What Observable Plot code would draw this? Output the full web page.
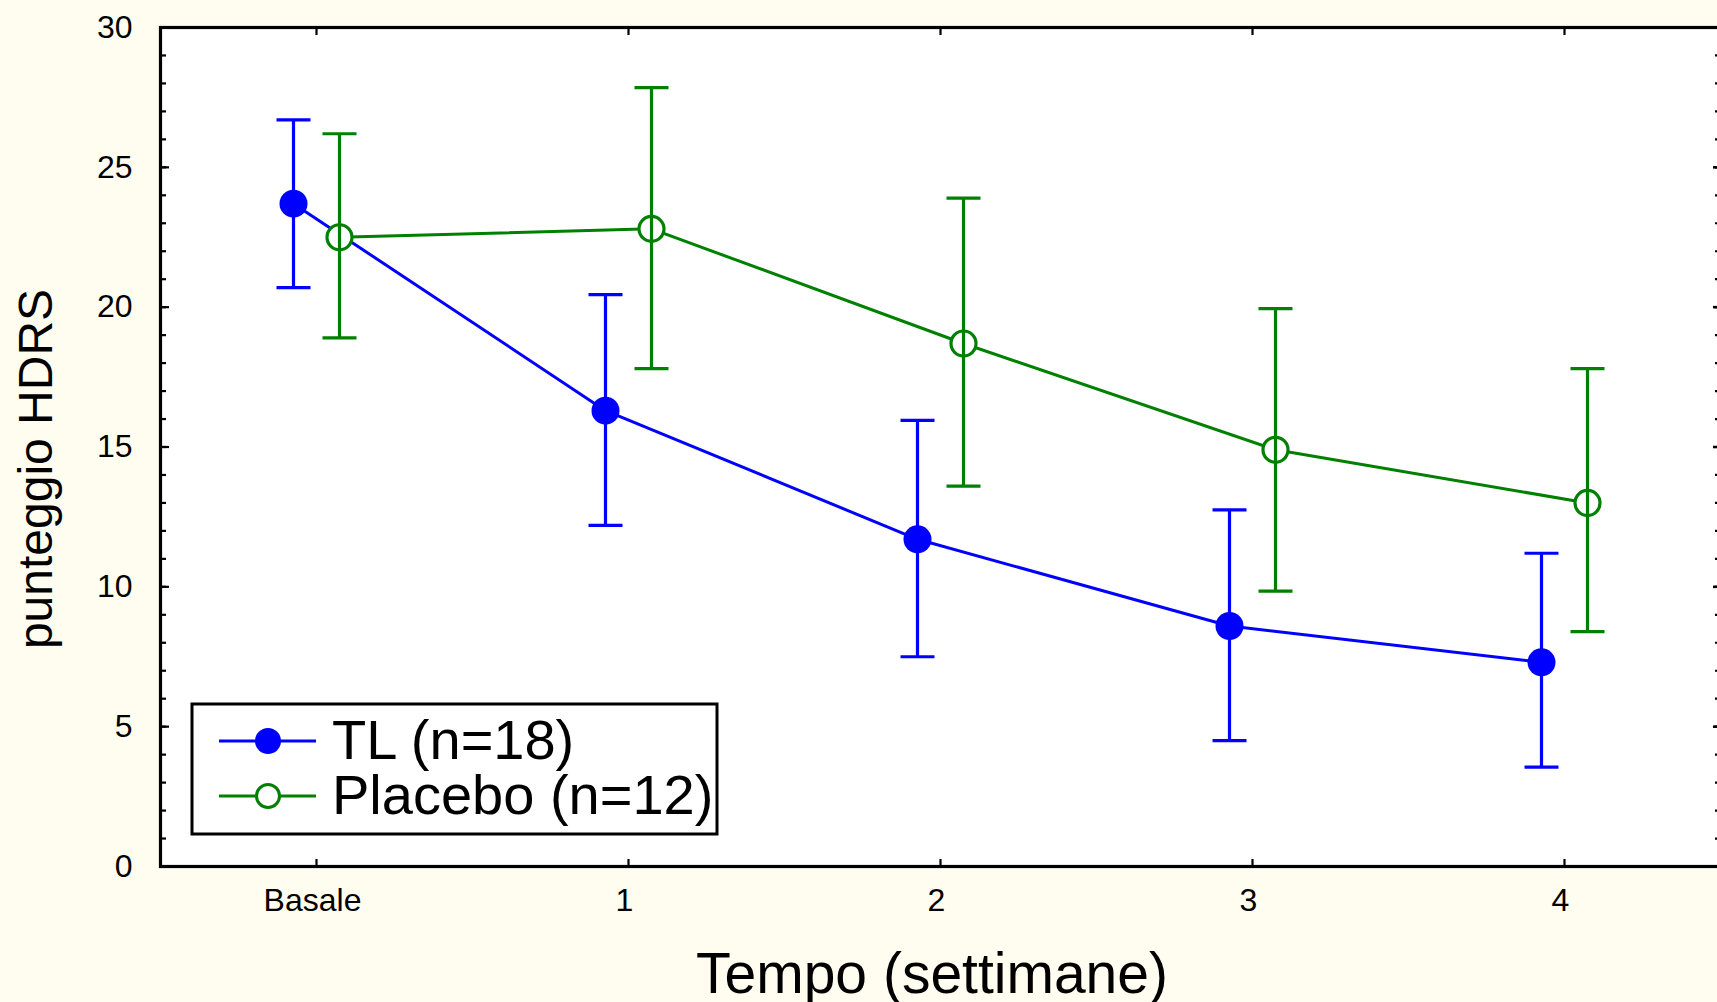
<!DOCTYPE html>
<html>
<head>
<meta charset="utf-8">
<script src="https://cdn.jsdelivr.net/npm/d3@7"></script>
<script src="https://cdn.jsdelivr.net/npm/@observablehq/plot@0.6"></script>
<style>
  html, body { margin: 0; padding: 0; background: #fffdf0; }
  #chart svg { display: block; }
</style>
</head>
<body>
<div id="chart"></div>
<script>
// ---- Data ----
const categories = ["Basale", "1", "2", "3", "4"];
const seriesNames = ["TL (n=18)", "Placebo (n=12)"];

const tlMean = [23.7, 16.3, 11.7, 8.6, 7.3];
const tlLow  = [20.7, 12.2, 7.5, 4.5, 3.55];
const tlHigh = [26.7, 20.45, 15.95, 12.75, 11.2];

const plMean = [22.5, 22.8, 18.7, 14.9, 13.0];
const plLow  = [18.9, 17.8, 13.6, 9.85, 8.4];
const plHigh = [26.2, 27.85, 23.9, 19.95, 17.8];

const yTicksMajor = [0, 5, 10, 15, 20, 25, 30];
const yTicksMinor = d3.range(0, 31, 1);

const xTitle = "Tempo (settimane)";
const yTitle = "punteggio HDRS";

// ---- Build tables ----
const tl = categories.map((c, i) => ({t: c, mean: tlMean[i], lo: tlLow[i], hi: tlHigh[i]}));
const pl = categories.map((c, i) => ({t: c, mean: plMean[i], lo: plLow[i], hi: plHigh[i]}));

const BLUE = "#0000ff";
const GREEN = "#008000";
const FONT = "'Liberation Sans', Arial, Helvetica, sans-serif";
const OFF = 23; // horizontal dodge of the two series (px)

const capSymbol = {
  draw(ctx) { ctx.moveTo(-17, 0); ctx.lineTo(17, 0); }
};

function errorBars(data, color, dx) {
  return [
    Plot.ruleX(data, {x: "t", y1: "lo", y2: "hi", stroke: color, strokeWidth: 3.2, dx}),
    Plot.dot(data, {x: "t", y: "lo", symbol: capSymbol, r: 5, fill: "none", stroke: color, strokeWidth: 3.2, dx}),
    Plot.dot(data, {x: "t", y: "hi", symbol: capSymbol, r: 5, fill: "none", stroke: color, strokeWidth: 3.2, dx})
  ];
}

const svg = Plot.plot({
  width: 1717,
  height: 1002,
  marginLeft: 160,
  marginRight: -3,
  marginTop: 27,
  marginBottom: 136,
  style: {background: "#fffdf0", fontFamily: FONT, color: "black", overflow: "visible"},
  x: {type: "point", domain: categories, padding: 0.5, label: null},
  y: {domain: [0, 30], label: null},
  marks: [
    Plot.frame({fill: "white", stroke: "none"}),
    // tick marks (inward)
    Plot.axisY({ticks: yTicksMinor, tickSize: -6, fill: "none", stroke: "black", strokeWidth: 2.2, label: null}),
    Plot.axisY({ticks: yTicksMajor, tickSize: -9, fill: "none", stroke: "black", strokeWidth: 2.2, label: null}),
    Plot.axisY({anchor: "right", ticks: yTicksMinor, tickSize: -6, fill: "none", stroke: "black", strokeWidth: 2.2, label: null}),
    Plot.axisY({anchor: "right", ticks: yTicksMajor, tickSize: -8, fill: "none", stroke: "black", strokeWidth: 2.6, label: null}),
    Plot.axisX({anchor: "bottom", tickSize: -7, fill: "none", stroke: "black", strokeWidth: 2.2, label: null}),
    Plot.axisX({anchor: "top", tickSize: -7, fill: "none", stroke: "black", strokeWidth: 2.2, label: null}),
    // tick labels
    Plot.axisY({ticks: yTicksMajor, tickSize: 0, tickPadding: 28, fontSize: 32, label: null}),
    Plot.axisX({anchor: "bottom", tickSize: 0, tickPadding: 22, fontSize: 32, dx: -4, label: null}),
    // frame
    Plot.frame({stroke: "black", strokeWidth: 3.2}),
    // lines
    Plot.line(tl, {x: "t", y: "mean", stroke: BLUE, strokeWidth: 3, dx: -OFF}),
    Plot.line(pl, {x: "t", y: "mean", stroke: GREEN, strokeWidth: 3, dx: OFF}),
    // dots
    Plot.dot(tl, {x: "t", y: "mean", r: 14, fill: BLUE, stroke: "none", dx: -OFF}),
    Plot.dot(pl, {x: "t", y: "mean", r: 12.5, fill: "white", stroke: GREEN, strokeWidth: 3.2, dx: OFF}),
    // error bars
    ...errorBars(tl, BLUE, -OFF),
    ...errorBars(pl, GREEN, OFF)
  ]
});

document.getElementById("chart").appendChild(svg);

// ---- Axis titles ----
const s = d3.select(svg);
s.append("text")
  .attr("x", 932).attr("y", 993)
  .attr("text-anchor", "middle")
  .attr("font-family", FONT).attr("font-size", 57).attr("fill", "black")
  .text(xTitle);
s.append("text")
  .attr("transform", "translate(52,469) rotate(-90)")
  .attr("text-anchor", "middle")
  .attr("font-family", FONT).attr("font-size", 48).attr("fill", "black")
  .text(yTitle);

// ---- Legend ----
const lg = s.append("g").attr("text-anchor", "start");
lg.append("rect")
  .attr("x", 192).attr("y", 704).attr("width", 525).attr("height", 130)
  .attr("fill", "white").attr("stroke", "black").attr("stroke-width", 3);
const legendItems = [
  {name: seriesNames[0], color: BLUE, filled: true, y: 741},
  {name: seriesNames[1], color: GREEN, filled: false, y: 796}
];
legendItems.forEach(it => {
  lg.append("line").attr("x1", 219).attr("x2", 316).attr("y1", it.y).attr("y2", it.y)
    .attr("stroke", it.color).attr("stroke-width", 3);
  if (it.filled) {
    lg.append("circle").attr("cx", 268).attr("cy", it.y).attr("r", 13).attr("fill", it.color);
  } else {
    lg.append("circle").attr("cx", 268).attr("cy", it.y).attr("r", 11.5).attr("fill", "white")
      .attr("stroke", it.color).attr("stroke-width", 3);
  }
  lg.append("text").attr("x", 332).attr("y", it.y + 18)
    .attr("text-anchor", "start")
    .attr("font-family", FONT).attr("font-size", 56).attr("fill", "black")
    .text(it.name);
});
</script>
</body>
</html>
